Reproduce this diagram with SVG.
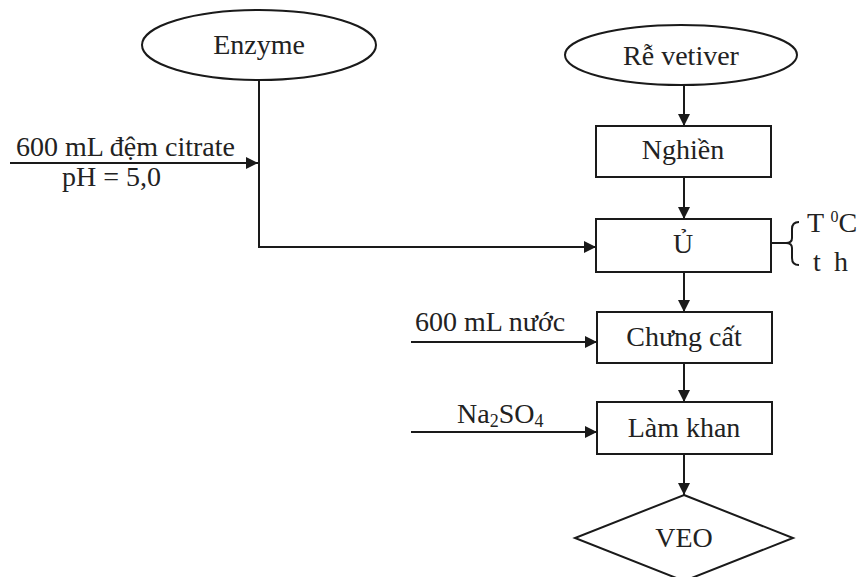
<svg xmlns="http://www.w3.org/2000/svg" width="858" height="577" viewBox="0 0 858 577">
<style>
.shape{fill:#fff;stroke:#1a1a1a;stroke-width:2}
.line{fill:none;stroke:#1a1a1a;stroke-width:2}
text{font-family:"Liberation Serif","Times New Roman",serif;font-size:28px;fill:#222}
.c{text-anchor:middle}
</style>
<defs>
<marker id="arr" markerUnits="userSpaceOnUse" markerWidth="13" markerHeight="12" refX="12" refY="6" orient="auto">
<path d="M0,0 L12,6 L0,12 z" fill="#1a1a1a"/>
</marker>
</defs>
<rect width="858" height="577" fill="#fff"/>
<g id="connectors">
<polyline class="line" points="259,80 259,247 596,247" marker-end="url(#arr)"/>
<line class="line" x1="10" y1="163" x2="258" y2="163" marker-end="url(#arr)"/>
<line class="line" x1="684" y1="85" x2="684" y2="126" marker-end="url(#arr)"/>
<line class="line" x1="684" y1="177" x2="684" y2="219" marker-end="url(#arr)"/>
<line class="line" x1="684" y1="272" x2="684" y2="312" marker-end="url(#arr)"/>
<line class="line" x1="411" y1="342" x2="597" y2="342" marker-end="url(#arr)"/>
<line class="line" x1="684" y1="363" x2="684" y2="402" marker-end="url(#arr)"/>
<line class="line" x1="411" y1="432" x2="597" y2="432" marker-end="url(#arr)"/>
<line class="line" x1="684" y1="454" x2="684" y2="495" marker-end="url(#arr)"/>
<line class="line" x1="771" y1="243" x2="786" y2="243"/>
<path class="line" d="M799,222 Q792,222 792,229 L792,238 Q792,243 786,243 Q792,243 792,248 L792,258 Q792,265 799,265"/>
</g>
<g id="enzyme">
<ellipse class="shape" cx="259" cy="45" rx="117" ry="35"/>
<text class="c" x="259" y="54">Enzyme</text>
</g>
<g id="citrate-label">
<text x="16" y="156">600 mL đệm citrate</text>
<text x="62" y="186">pH = 5,0</text>
</g>
<g id="re-vetiver">
<ellipse class="shape" cx="681" cy="55" rx="116" ry="30"/>
<text class="c" x="681" y="65">Rễ vetiver</text>
</g>
<g id="nghien">
<rect class="shape" x="596" y="126" width="175" height="51"/>
<text class="c" x="683" y="159">Nghiền</text>
</g>
<g id="u">
<rect class="shape" x="596" y="219" width="175" height="53"/>
<text class="c" x="683" y="253">Ủ</text>
</g>
<g id="conditions">
<text x="807" y="232">T <tspan font-size="16" dy="-10">0</tspan><tspan dy="10">C</tspan></text>
<text x="813" y="271">t<tspan x="834">h</tspan></text>
</g>
<g id="chung-cat">
<rect class="shape" x="597" y="312" width="175" height="51"/>
<text class="c" x="684" y="346">Chưng cất</text>
</g>
<g id="nuoc-label">
<text x="415" y="331">600 mL nước</text>
</g>
<g id="lam-khan">
<rect class="shape" x="597" y="402" width="175" height="52"/>
<text class="c" x="684" y="437">Làm khan</text>
</g>
<g id="na2so4-label">
<text x="457" y="423">Na<tspan font-size="18" dy="4">2</tspan><tspan dy="-4">SO</tspan><tspan font-size="18" dy="4">4</tspan></text>
</g>
<g id="veo">
<polygon class="shape" points="684,495 793,538 684,581 575,538"/>
<text class="c" x="684" y="547">VEO</text>
</g>
</svg>
